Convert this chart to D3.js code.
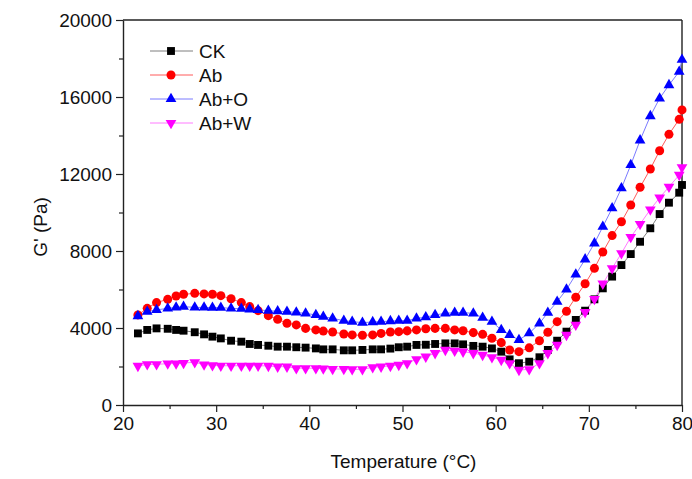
<!DOCTYPE html>
<html>
<head>
<meta charset="utf-8">
<script src="https://cdn.jsdelivr.net/npm/d3@7"></script>
<style>
body { margin: 0; background: #fff; }
text { font-family: Arial, "Liberation Sans", sans-serif; }
</style>
</head>
<body>
<script>
// Temperature (°C) of each measurement point
var temps = [21.6, 22.6, 23.6, 24.8, 25.7, 26.5, 27.7, 28.7, 29.6, 30.5, 31.6, 32.7, 33.6, 34.5, 35.6, 36.6,
  37.6, 38.6, 39.6, 40.7, 41.5, 42.5, 43.7, 44.6, 45.7, 46.8, 47.7, 48.7, 49.6, 50.5, 51.5, 52.5, 53.5,
  54.6, 55.6, 56.5, 57.6, 58.6, 59.6, 60.6, 61.5, 62.5, 63.6, 64.7, 65.6, 66.6, 67.6, 68.6, 69.6,
  70.6, 71.5, 72.5, 73.5, 74.5, 75.5, 76.6, 77.6, 78.6, 79.7, 80.0];

// G' (Pa) per series
var ck = [3720, 3900, 3980, 3960, 3900, 3860, 3780, 3670, 3550, 3460, 3340, 3290, 3170, 3120, 3080, 3030,
  3030, 3000, 2980, 2940, 2890, 2890, 2840, 2840, 2860, 2890, 2890, 2930, 3000, 3030, 3120, 3130, 3170,
  3200, 3200, 3150, 3070, 3030, 2940, 2770, 2370, 2170, 2250, 2480, 2860, 3340, 3810, 4420, 4900,
  5490, 6060, 6670, 7270, 7840, 8480, 9180, 9920, 10510, 11030, 11430];

var ab = [4680, 5020, 5320, 5490, 5660, 5750, 5800, 5770, 5750, 5680, 5520, 5320, 5110, 4900, 4640, 4450,
  4250, 4160, 3980, 3900, 3840, 3790, 3690, 3640, 3620, 3640, 3720, 3790, 3810, 3850, 3900, 3960, 3980,
  3980, 3900, 3860, 3760, 3670, 3470, 3240, 2860, 2770, 2970, 3340, 3780, 4330, 4870, 5600, 6300,
  7100, 7950, 8800, 9520, 10390, 11310, 12260, 13210, 14060, 14840, 15330];

var abO = [4620, 4850, 4940, 5020, 5070, 5110, 5070, 5070, 5060, 5060, 5020, 5000, 4970, 4940, 4900, 4870,
  4850, 4810, 4760, 4680, 4590, 4500, 4380, 4330, 4280, 4310, 4330, 4360, 4380, 4380, 4500, 4560, 4680,
  4760, 4800, 4800, 4760, 4540, 4330, 3900, 3640, 3380, 3730, 4240, 4800, 5370, 6000, 6780, 7570,
  8400, 9260, 10220, 11260, 12470, 13750, 15010, 15930, 16620, 17320, 17940];

var abW = [2030, 2110, 2110, 2150, 2150, 2180, 2220, 2100, 2060, 2040, 2040, 2040, 2040, 2040, 2030, 1990,
  1990, 1910, 1910, 1910, 1890, 1870, 1870, 1850, 1850, 1960, 1990, 2030, 2080, 2170, 2370, 2510, 2690,
  2860, 2810, 2770, 2690, 2600, 2480, 2340, 2170, 1820, 1850, 2170, 2690, 3120, 3640, 4160, 4820,
  5500, 6300, 7100, 7880, 8720, 9400, 10150, 10770, 11330, 11950, 12350];

var names = ["CK", "Ab", "Ab+O", "Ab+W"];
var xTicks = [20, 30, 40, 50, 60, 70, 80];
var yTicks = [0, 4000, 8000, 12000, 16000, 20000];

var series = [
  {name: names[0], values: ck, fill: "#000000", line: "#7f7f7f", symbol: d3.symbolSquare, size: 62, rot: 0},
  {name: names[1], values: ab, fill: "#ff0000", line: "#ff5a5a", symbol: d3.symbolCircle, size: 64, rot: 0},
  {name: names[2], values: abO, fill: "#0000ff", line: "#7a7aff", symbol: d3.symbolTriangle, size: 50, rot: 0},
  {name: names[3], values: abW, fill: "#ff00ff", line: "#ff7aff", symbol: d3.symbolTriangle, size: 50, rot: 180}
];

var W = 692, H = 479;
var plotLeft = 123, plotRight = 682, plotTop = 20, plotBottom = 405;

var svg = d3.select("body").append("svg")
    .attr("width", W)
    .attr("height", H);

var x = d3.scaleLinear().domain([20, 80]).range([plotLeft, plotRight]);
var y = d3.scaleLinear().domain([0, 20000]).range([plotBottom, plotTop]);

var axisColor = "#222";

// minor ticks
svg.append("g")
    .attr("transform", "translate(0," + plotBottom + ")")
    .call(d3.axisBottom(x).tickValues([25, 35, 45, 55, 65, 75]).tickSize(4).tickFormat("").tickSizeOuter(0))
    .call(function(g) { g.select(".domain").remove(); });
svg.append("g")
    .attr("transform", "translate(" + plotLeft + ",0)")
    .call(d3.axisLeft(y).tickValues([2000, 6000, 10000, 14000, 18000]).tickSize(4).tickFormat("").tickSizeOuter(0))
    .call(function(g) { g.select(".domain").remove(); });

// major axes
svg.append("g")
    .attr("transform", "translate(0," + plotBottom + ")")
    .call(d3.axisBottom(x).tickValues(xTicks).tickSize(7).tickPadding(5).tickSizeOuter(0));
svg.append("g")
    .attr("transform", "translate(" + plotLeft + ",0)")
    .call(d3.axisLeft(y).tickValues(yTicks).tickSize(7).tickPadding(4).tickSizeOuter(0).tickFormat(d3.format("d")));

svg.selectAll(".tick line").attr("stroke", axisColor).attr("stroke-width", 1.2);
svg.selectAll(".domain").attr("stroke", axisColor).attr("stroke-width", 1.4);
svg.selectAll(".tick text")
    .attr("font-family", "Arial, 'Liberation Sans', sans-serif")
    .attr("font-size", 19)
    .attr("fill", "#111");

// frame top and right
svg.append("line").attr("x1", plotLeft).attr("x2", plotRight).attr("y1", plotTop).attr("y2", plotTop)
    .attr("stroke", axisColor).attr("stroke-width", 1.4);
svg.append("line").attr("x1", plotRight).attr("x2", plotRight).attr("y1", plotTop).attr("y2", plotBottom)
    .attr("stroke", axisColor).attr("stroke-width", 1.4);

// lines and markers
var line = d3.line()
    .x(function(d, i) { return x(temps[i]); })
    .y(function(d) { return y(d); });

series.forEach(function(s) {
  svg.append("path")
      .datum(s.values)
      .attr("fill", "none")
      .attr("stroke", s.line)
      .attr("stroke-width", 1)
      .attr("d", line);
});

series.forEach(function(s) {
  svg.append("g").selectAll("path")
      .data(s.values)
      .join("path")
      .attr("d", d3.symbol().type(s.symbol).size(s.size))
      .attr("transform", function(d, i) { return "translate(" + x(temps[i]) + "," + y(d) + ") rotate(" + s.rot + ")"; })
      .attr("fill", s.fill);
});

// legend
var legend = svg.append("g");
series.forEach(function(s, i) {
  var ly = 51 + i * 24;
  legend.append("line")
      .attr("x1", 150).attr("x2", 193).attr("y1", ly).attr("y2", ly)
      .attr("stroke", s.line).attr("stroke-width", 1);
  legend.append("path")
      .attr("d", d3.symbol().type(s.symbol).size(s.size)())
      .attr("transform", "translate(171," + ly + ") rotate(" + s.rot + ")")
      .attr("fill", s.fill);
  legend.append("text")
      .attr("x", 199).attr("y", ly + 7)
      .attr("font-size", 19)
      .attr("fill", "#111")
      .text(s.name);
});

// axis titles
svg.append("text")
    .attr("text-anchor", "middle")
    .attr("x", (plotLeft + plotRight) / 2 + 1)
    .attr("y", 468)
    .attr("font-size", 19)
    .attr("fill", "#111")
    .text("Temperature (°C)");

svg.append("text")
    .attr("text-anchor", "middle")
    .attr("transform", "translate(47,227) rotate(-90)")
    .attr("font-size", 19)
    .attr("fill", "#111")
    .text("G' (Pa)");
</script>
</body>
</html>
